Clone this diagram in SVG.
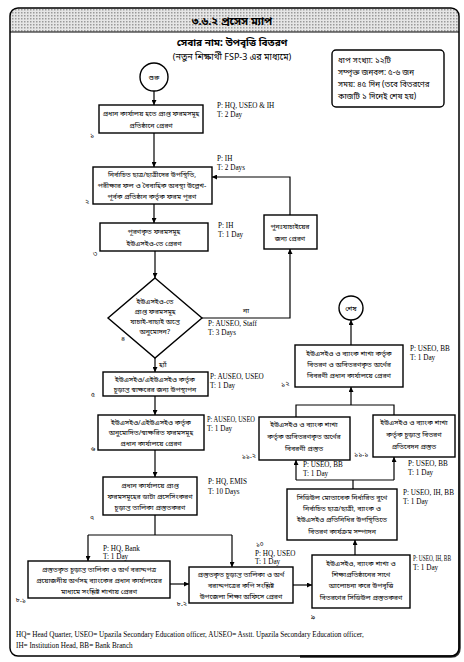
<svg xmlns="http://www.w3.org/2000/svg" width="464" height="662" viewBox="0 0 464 662">
<defs>
<marker id="ah" viewBox="0 0 10 10" refX="10" refY="5" markerWidth="5" markerHeight="5" orient="auto-start-reverse" markerUnits="userSpaceOnUse"><path d="M0,0 L10,5 L0,10 z" fill="#000"/></marker>
<pattern id="dots" width="3" height="3" patternUnits="userSpaceOnUse"><rect width="3" height="3" fill="#e6e6e6"/><rect width="1.5" height="1.5" fill="#9a9a9a"/></pattern>
<linearGradient id="shade" x1="0" y1="0" x2="0" y2="1"><stop offset="0" stop-color="#000" stop-opacity="0"/><stop offset="1" stop-color="#000" stop-opacity="0.85"/></linearGradient>
<style>
.bn{font-family:'Noto Sans Bengali','Noto Serif Bengali','Lohit Bengali','FreeSans','Noto Sans',sans-serif;fill:#000}
.c{text-anchor:middle;font-size:7px}
.lb{font-size:7px}
.pt{font-family:'Liberation Serif','Times New Roman',serif;font-size:7.2px;fill:#000}
.bx{fill:#fff;stroke:#000;stroke-width:1.4}
.ln{fill:none;stroke:#000;stroke-width:1.2}
.ar{fill:none;stroke:#000;stroke-width:1.2;marker-end:url(#ah)}
</style>
</defs>
<rect width="464" height="662" fill="#fff"/>
<g id="frame">
<path d="M10,32 L10,16 Q10,8 18,8 L451,8 Q459,8 459,16 L459,32 Z" fill="url(#dots)"/>
<rect x="10" y="8" width="449" height="648" rx="8" fill="none" stroke="#000" stroke-width="1.5"/>
<path d="M459.5,260 L459.5,648 Q459.5,656.5 451,656.5 L300,656.5" fill="none" stroke="url(#shade)" stroke-width="2.5"/>
<line x1="10" y1="32" x2="459" y2="32" stroke="#000" stroke-width="1.2"/>
<text class="bn" x="232" y="25" text-anchor="middle" font-size="11" font-weight="bold">৩.৬.২ প্রসেস ম্যাপ</text>
<text class="bn" x="232" y="46" text-anchor="middle" font-size="10" font-weight="bold">সেবার নাম: উপবৃত্তি বিতরণ</text>
<text class="bn" x="232" y="60" text-anchor="middle" font-size="9">(নতুন শিক্ষার্থী FSP-3 এর মাধ্যমে)</text>
</g>
<g id="info">
<rect x="332" y="50" width="112" height="57" rx="4" class="bx"/>
<text class="bn" font-size="8" x="338" y="63">ধাপ সংখ্যা: ১২টি</text>
<text class="bn" font-size="8" x="338" y="75">সম্পৃক্ত জনবল: ৫-৬ জন</text>
<text class="bn" font-size="8" x="338" y="87">সময়: ৪৫ দিন (তবে বিতরণের</text>
<text class="bn" font-size="8" x="338" y="99">কাজটি ১ দিনেই শেষ হয়)</text>
</g>
<g id="connectors">
<line class="ar" x1="154" y1="91" x2="154" y2="105"/>
<line class="ar" x1="154" y1="133" x2="154" y2="167"/>
<line class="ar" x1="154" y1="204" x2="154" y2="223"/>
<line class="ar" x1="155" y1="251" x2="155" y2="278"/>
<polyline class="ar" points="202,318 290,318 290,249"/>
<polyline class="ar" points="290,215 290,177 212,177"/>
<line class="ar" x1="155" y1="358" x2="155" y2="372"/>
<line class="ar" x1="155" y1="396" x2="155" y2="415"/>
<line class="ar" x1="155" y1="450" x2="155" y2="477"/>
<polyline class="ln" points="155,515 155,535"/>
<polyline class="ln" points="88,535 232,535"/>
<line class="ar" x1="88" y1="535" x2="88" y2="561"/>
<line class="ar" x1="232" y1="535" x2="232" y2="567"/>
<line class="ar" x1="170" y1="584" x2="189" y2="584"/>
<line class="ar" x1="293" y1="585" x2="312" y2="585"/>
<line class="ar" x1="355" y1="555" x2="355" y2="540"/>
<polyline class="ln" points="353,489 353,480"/>
<polyline class="ln" points="296,480 394,480"/>
<line class="ar" x1="296" y1="480" x2="296" y2="460"/>
<line class="ar" x1="394" y1="480" x2="394" y2="457"/>
<polyline class="ln" points="296,417 296,405 394,405 394,415"/>
<line class="ar" x1="351" y1="405" x2="351" y2="387"/>
<line class="ar" x1="351" y1="345" x2="351" y2="320"/>
</g>
<g id="start">
<circle cx="154" cy="77" r="14" class="bx"/>
<text class="bn c" x="154" y="80">শুরু</text>
</g>
<g id="s1">
<rect x="99" y="105" width="104" height="28" class="bx"/>
<text class="bn c" x="151" y="116">প্রধান কার্যালয় হতে প্রাপ্ত ফরমসমূহ</text>
<text class="bn c" x="151" y="128">প্রতিষ্ঠানে প্রেরণ</text>
<text class="bn lb" x="90" y="137">১</text>
<text class="pt" x="217" y="108">P: HQ, USEO &amp; IH</text>
<text class="pt" x="217" y="117">T: 2 Day</text>
</g>
<g id="s2">
<rect x="93" y="167" width="119" height="37" class="bx"/>
<text class="bn c" x="152" y="177">নির্বাচিত ছাত্র/ছাত্রীদের উপস্থিতি,</text>
<text class="bn c" x="152" y="188">পরীক্ষার ফল ও বৈবাহিক অবস্থা উল্লেখ-</text>
<text class="bn c" x="152" y="199">পূর্বক প্রতিষ্ঠান কর্তৃক ফরম পূরণ</text>
<text class="bn lb" x="85" y="204">২</text>
<text class="pt" x="217" y="161">P: IH</text>
<text class="pt" x="217" y="170">T: 2 Days</text>
</g>
<g id="s3">
<rect x="100" y="223" width="108" height="28" class="bx"/>
<text class="bn c" x="154" y="234">পূরণকৃত ফরমসমূহ</text>
<text class="bn c" x="154" y="246">ইউএসইও-তে প্রেরণ</text>
<text class="bn lb" x="93" y="256">৩</text>
<text class="pt" x="218" y="228">P: IH</text>
<text class="pt" x="218" y="237">T: 1 Day</text>
</g>
<g id="s4">
<polygon points="155,278 202,318 155,358 108,318" class="bx"/>
<text class="bn c" x="155" y="304">ইউএসইও-তে</text>
<text class="bn c" x="155" y="314">প্রাপ্ত ফরমসমূহ</text>
<text class="bn c" x="155" y="324">যাচাই-বাছাই অন্তে</text>
<text class="bn c" x="155" y="334">অনুমোদন?</text>
<text class="bn lb" x="121" y="341">৪</text>
<text class="bn lb" x="243" y="313">না</text>
<text class="bn lb" x="159" y="367">হ্যাঁ</text>
<text class="pt" x="208" y="326">P: AUSEO, Staff</text>
<text class="pt" x="208" y="335">T: 3 Days</text>
</g>
<g id="recheck">
<rect x="264" y="215" width="53" height="34" class="bx"/>
<text class="bn c" x="290" y="229">পুনঃযাচাইয়ের</text>
<text class="bn c" x="290" y="241">জন্য প্রেরণ</text>
</g>
<g id="s5">
<rect x="103" y="372" width="105" height="24" class="bx"/>
<text class="bn c" x="155" y="382">ইউএসইও/এইউএসইও কর্তৃক</text>
<text class="bn c" x="155" y="392">চূড়ান্ত স্বাক্ষরের জন্য উপস্থাপন</text>
<text class="bn lb" x="91" y="397">৫</text>
<text class="pt" x="210" y="379">P: AUSEO, USEO</text>
<text class="pt" x="210" y="388">T: 1 Day</text>
</g>
<g id="s6">
<rect x="98" y="415" width="106" height="35" class="bx"/>
<text class="bn c" x="151" y="425">ইউএসইও/এইউএসইও কর্তৃক</text>
<text class="bn c" x="151" y="435">অনুমোদিত/স্বাক্ষরিত ফরমসমূহ</text>
<text class="bn c" x="151" y="446">প্রধান কার্যালয়ে প্রেরণ</text>
<text class="bn lb" x="91" y="451">৬</text>
<text class="pt" x="207" y="422" textLength="48" lengthAdjust="spacingAndGlyphs">P: AUSEO, USEO</text>
<text class="pt" x="207" y="431">T: 1 Day</text>
</g>
<g id="s7">
<rect x="103" y="477" width="94" height="38" class="bx"/>
<text class="bn c" x="150" y="488">প্রধান কার্যালয়ে প্রাপ্ত</text>
<text class="bn c" x="150" y="499">ফরমসমূহের ডাটা প্রসেসিংকরণ</text>
<text class="bn c" x="150" y="510">চূড়ান্ত তালিকা প্রস্তুতকরণ</text>
<text class="bn lb" x="90" y="520">৭</text>
<text class="pt" x="208" y="484">P: HQ, EMIS</text>
<text class="pt" x="208" y="494">T: 10 Days</text>
</g>
<g id="s8-1">
<rect x="28" y="561" width="142" height="37" class="bx"/>
<text class="bn c" x="99" y="572">প্রস্তুতকৃত চূড়ান্ত তালিকা ও অর্থ বরাদ্দপত্র</text>
<text class="bn c" x="99" y="583">প্রয়োজনীয় অর্থসহ ব্যাংকের প্রধান কার্যালয়ের</text>
<text class="bn c" x="99" y="594">মাধ্যমে সংশ্লিষ্ট শাখায় প্রেরণ</text>
<text class="bn lb" x="26" y="602" text-anchor="end">৮.১</text>
<text class="pt" x="103" y="551">P: HQ, Bank</text>
<text class="pt" x="103" y="559">T: 1 Day</text>
</g>
<g id="s8-2">
<rect x="189" y="567" width="104" height="36" class="bx"/>
<text class="bn c" x="241" y="577">প্রস্তুতকৃত চূড়ান্ত তালিকা ও অর্থ</text>
<text class="bn c" x="241" y="588">বরাদ্দপত্রের কপি সংশ্লিষ্ট</text>
<text class="bn c" x="241" y="599">উপজেলা শিক্ষা অফিসে প্রেরণ</text>
<text class="bn lb" x="187" y="606" text-anchor="end">৮.২</text>
<text class="pt" x="255" y="556">P: HQ, USEO</text>
<text class="pt" x="255" y="564">T: 1 Day</text>
</g>
<g id="s9">
<rect x="312" y="555" width="98" height="53" class="bx"/>
<text class="bn c" x="361" y="566">ইউএসইও, ব্যাংক শাখা ও</text>
<text class="bn c" x="361" y="577">শিক্ষাপ্রতিষ্ঠানের সাথে</text>
<text class="bn c" x="361" y="588">আলোচনা করে উপবৃত্তি</text>
<text class="bn c" x="361" y="600">বিতরণের সিডিউল প্রস্তুতকরণ</text>
<text class="bn lb" x="311" y="619">৯</text>
<text class="pt" x="413" y="561" font-size="6.2" textLength="38" lengthAdjust="spacingAndGlyphs">P: USEO, IH, BB</text>
<text class="pt" x="413" y="570">T: 1 Day</text>
</g>
<g id="s10">
<rect x="287" y="489" width="110" height="51" class="bx"/>
<text class="bn c" x="342" y="500">সিডিউল মোতাবেক নির্ধারিত বুথে</text>
<text class="bn c" x="342" y="511">নির্বাচিত ছাত্র/ছাত্রী, ব্যাংক ও</text>
<text class="bn c" x="342" y="522">ইউএসইও প্রতিনিধির উপস্থিতিতে</text>
<text class="bn c" x="342" y="534">বিতরণ কার্যক্রম সম্পাদন</text>
<text class="bn" font-size="6.5" x="256" y="546">১০</text>
<text class="pt" x="403" y="495">P: USEO, IH, BB</text>
<text class="pt" x="403" y="504">T: 1 Day</text>
</g>
<g id="s11-2">
<rect x="259" y="417" width="91" height="43" class="bx"/>
<text class="bn c" x="304" y="427">ইউএসইও ও ব্যাংক শাখা</text>
<text class="bn c" x="304" y="439">কর্তৃক অবিতরণকৃত অর্থের</text>
<text class="bn c" x="304" y="451">বিবরণী প্রস্তুত</text>
<text class="bn lb" x="256" y="458" text-anchor="end">১১.২</text>
<text class="pt" x="303" y="467">P: USEO, BB</text>
<text class="pt" x="303" y="476">T: 1 Day</text>
</g>
<g id="s11-1">
<rect x="373" y="415" width="82" height="42" class="bx"/>
<text class="bn c" x="414" y="425">ইউএসইও ও ব্যাংক শাখা</text>
<text class="bn c" x="414" y="437">কর্তৃক চূড়ান্ত বিতরণ</text>
<text class="bn c" x="414" y="449">প্রতিবেদন প্রস্তুত</text>
<text class="bn lb" x="354" y="456">১১.১</text>
<text class="pt" x="408" y="466">P: USEO, BB</text>
<text class="pt" x="408" y="475">T: 1 Day</text>
</g>
<g id="s12">
<rect x="295" y="345" width="108" height="42" class="bx"/>
<text class="bn c" x="349" y="356">ইউএসইও ও ব্যাংক শাখা কর্তৃক</text>
<text class="bn c" x="349" y="367">বিতরণ ও অবিতরণকৃত অর্থের</text>
<text class="bn c" x="349" y="378">বিবরণী প্রধান কার্যালয়ে প্রেরণ</text>
<text class="bn lb" x="281" y="386">১২</text>
<text class="pt" x="410" y="351">P: USEO, BB</text>
<text class="pt" x="410" y="360">T: 1 Day</text>
</g>
<g id="end">
<circle cx="351" cy="308" r="12" class="bx"/>
<text class="bn c" x="351" y="311">শেষ</text>
</g>
<g id="legend">
<text class="pt" x="16" y="637" font-size="7.6">HQ= Head Quarter, USEO= Upazila Secondary Education officer, AUSEO= Asstt. Upazila Secondary Education officer,</text>
<text class="pt" x="16" y="648" font-size="7.6">IH= Institution Head, BB= Bank Branch</text>
</g>
</svg>
